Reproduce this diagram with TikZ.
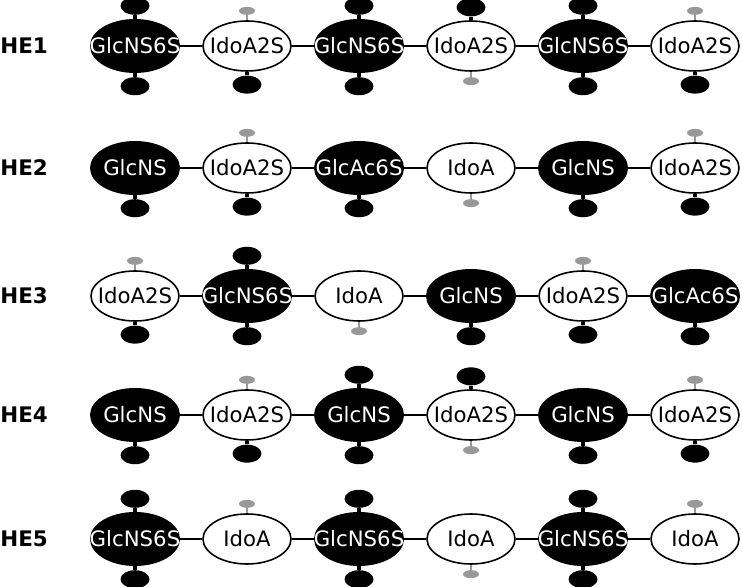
\documentclass[tikz,border=0pt]{standalone}
\usepackage{fontspec}
\setmainfont{DejaVu Sans}
\usetikzlibrary{positioning,shapes.geometric}

\begin{document}
\begin{tikzpicture}[
  x=1cm, y=1cm,
  txt/.style    = {font=\fontsize{12.1}{14}\selectfont, inner sep=0pt},
  rowlab/.style = {font=\fontsize{12.2}{14}\selectfont\bfseries, inner sep=0pt,
                   anchor=west},
  sugar/.style  = {ellipse, inner sep=0pt},
  glc/.style    = {sugar, fill=black, minimum width=18mm, minimum height=10.8mm,
                   label={[txt, text=white]center:#1}},
  ido/.style    = {sugar, draw, line width=0.9pt, fill=white,
                   minimum width=17.6mm, minimum height=10mm,
                   label={[txt]center:#1}},
  sulf/.style   = {ellipse, fill=black, inner sep=0pt,
                   minimum width=5.8mm, minimum height=3.6mm},
  bare/.style   = {ellipse, fill=black!40, inner sep=0pt,
                   minimum width=3.2mm, minimum height=1.6mm},
  sup/.style    = {sulf, above=0.7mm of #1},
  sdn/.style    = {sulf, below=0.7mm of #1},
  bup/.style    = {bare, above=1mm of #1},
  bdn/.style    = {bare, below=1mm of #1},
  sstem/.style  = {line width=2pt},
  bstem/.style  = {line width=1.3pt, draw=black!40},
  link/.style   = {line width=1.6pt},
]
\useasboundingbox (0,0) rectangle (14.84,11.72);

%% ==== HE1 ==================================================================
\node[rowlab] (he1) at (0,10.80) {HE1};
\node[glc=GlcNS6S] (h11) at (2.70,10.80) {};
\node[ido=IdoA2S]  (h12) at (4.94,10.80) {};
\node[glc=GlcNS6S] (h13) at (7.18,10.80) {};
\node[ido=IdoA2S]  (h14) at (9.42,10.80) {};
\node[glc=GlcNS6S] (h15) at (11.66,10.80) {};
\node[ido=IdoA2S]  (h16) at (13.90,10.80) {};
\node[sup=h11] (h11t) {}; \node[sdn=h11] (h11b) {};
\node[bup=h12] (h12t) {}; \node[sdn=h12] (h12b) {};
\node[sup=h13] (h13t) {}; \node[sdn=h13] (h13b) {};
\node[sup=h14] (h14t) {}; \node[bdn=h14] (h14b) {};
\node[sup=h15] (h15t) {}; \node[sdn=h15] (h15b) {};
\node[bup=h16] (h16t) {}; \node[sdn=h16] (h16b) {};
\draw[link] (h11) -- (h12) -- (h13) -- (h14) -- (h15) -- (h16);
\draw[sstem] (h11) -- (h11t) (h11) -- (h11b) (h12) -- (h12b)
  (h13) -- (h13t) (h13) -- (h13b) (h14) -- (h14t)
  (h15) -- (h15t) (h15) -- (h15b) (h16) -- (h16b);
\draw[bstem] (h12) -- (h12t) (h14) -- (h14b) (h16) -- (h16t);

%% ==== HE2 ==================================================================
\node[rowlab] (he2) at (0,8.36) {HE2};
\node[glc=GlcNS]   (h21) at (2.70,8.36) {};
\node[ido=IdoA2S]  (h22) at (4.94,8.36) {};
\node[glc=GlcAc6S] (h23) at (7.18,8.36) {};
\node[ido=IdoA]    (h24) at (9.42,8.36) {};
\node[glc=GlcNS]   (h25) at (11.66,8.36) {};
\node[ido=IdoA2S]  (h26) at (13.90,8.36) {};
\node[sdn=h21] (h21b) {};
\node[bup=h22] (h22t) {}; \node[sdn=h22] (h22b) {};
\node[sdn=h23] (h23b) {};
\node[bdn=h24] (h24b) {};
\node[sdn=h25] (h25b) {};
\node[bup=h26] (h26t) {}; \node[sdn=h26] (h26b) {};
\draw[link] (h21) -- (h22) -- (h23) -- (h24) -- (h25) -- (h26);
\draw[sstem] (h21) -- (h21b) (h22) -- (h22b) (h23) -- (h23b)
  (h25) -- (h25b) (h26) -- (h26b);
\draw[bstem] (h22) -- (h22t) (h24) -- (h24b) (h26) -- (h26t);

%% ==== HE3 ==================================================================
\node[rowlab] (he3) at (0,5.80) {HE3};
\node[ido=IdoA2S]  (h31) at (2.70,5.80) {};
\node[glc=GlcNS6S] (h32) at (4.94,5.80) {};
\node[ido=IdoA]    (h33) at (7.18,5.80) {};
\node[glc=GlcNS]   (h34) at (9.42,5.80) {};
\node[ido=IdoA2S]  (h35) at (11.66,5.80) {};
\node[glc=GlcAc6S] (h36) at (13.90,5.80) {};
\node[bup=h31] (h31t) {}; \node[sdn=h31] (h31b) {};
\node[sup=h32] (h32t) {}; \node[sdn=h32] (h32b) {};
\node[bdn=h33] (h33b) {};
\node[sdn=h34] (h34b) {};
\node[bup=h35] (h35t) {}; \node[sdn=h35] (h35b) {};
\node[sdn=h36] (h36b) {};
\draw[link] (h31) -- (h32) -- (h33) -- (h34) -- (h35) -- (h36);
\draw[sstem] (h31) -- (h31b) (h32) -- (h32t) (h32) -- (h32b)
  (h34) -- (h34b) (h35) -- (h35b) (h36) -- (h36b);
\draw[bstem] (h31) -- (h31t) (h33) -- (h33b) (h35) -- (h35t);

%% ==== HE4 ==================================================================
\node[rowlab] (he4) at (0,3.42) {HE4};
\node[glc=GlcNS]   (h41) at (2.70,3.42) {};
\node[ido=IdoA2S]  (h42) at (4.94,3.42) {};
\node[glc=GlcNS]   (h43) at (7.18,3.42) {};
\node[ido=IdoA2S]  (h44) at (9.42,3.42) {};
\node[glc=GlcNS]   (h45) at (11.66,3.42) {};
\node[ido=IdoA2S]  (h46) at (13.90,3.42) {};
\node[sdn=h41] (h41b) {};
\node[bup=h42] (h42t) {}; \node[sdn=h42] (h42b) {};
\node[sup=h43] (h43t) {}; \node[sdn=h43] (h43b) {};
\node[sup=h44] (h44t) {}; \node[bdn=h44] (h44b) {};
\node[sdn=h45] (h45b) {};
\node[bup=h46] (h46t) {}; \node[sdn=h46] (h46b) {};
\draw[link] (h41) -- (h42) -- (h43) -- (h44) -- (h45) -- (h46);
\draw[sstem] (h41) -- (h41b) (h42) -- (h42b) (h43) -- (h43t)
  (h43) -- (h43b) (h44) -- (h44t) (h45) -- (h45b) (h46) -- (h46b);
\draw[bstem] (h42) -- (h42t) (h44) -- (h44b) (h46) -- (h46t);

%% ==== HE5 ==================================================================
\node[rowlab] (he5) at (0,0.94) {HE5};
\node[glc=GlcNS6S] (h51) at (2.70,0.94) {};
\node[ido=IdoA]    (h52) at (4.94,0.94) {};
\node[glc=GlcNS6S] (h53) at (7.18,0.94) {};
\node[ido=IdoA]    (h54) at (9.42,0.94) {};
\node[glc=GlcNS6S] (h55) at (11.66,0.94) {};
\node[ido=IdoA]    (h56) at (13.90,0.94) {};
\node[sup=h51] (h51t) {}; \node[sdn=h51] (h51b) {};
\node[bup=h52] (h52t) {};
\node[sup=h53] (h53t) {}; \node[sdn=h53] (h53b) {};
\node[bdn=h54] (h54b) {};
\node[sup=h55] (h55t) {}; \node[sdn=h55] (h55b) {};
\node[bup=h56] (h56t) {};
\draw[link] (h51) -- (h52) -- (h53) -- (h54) -- (h55) -- (h56);
\draw[sstem] (h51) -- (h51t) (h51) -- (h51b) (h53) -- (h53t)
  (h53) -- (h53b) (h55) -- (h55t) (h55) -- (h55b);
\draw[bstem] (h52) -- (h52t) (h54) -- (h54b) (h56) -- (h56t);

\end{tikzpicture}
\end{document}
